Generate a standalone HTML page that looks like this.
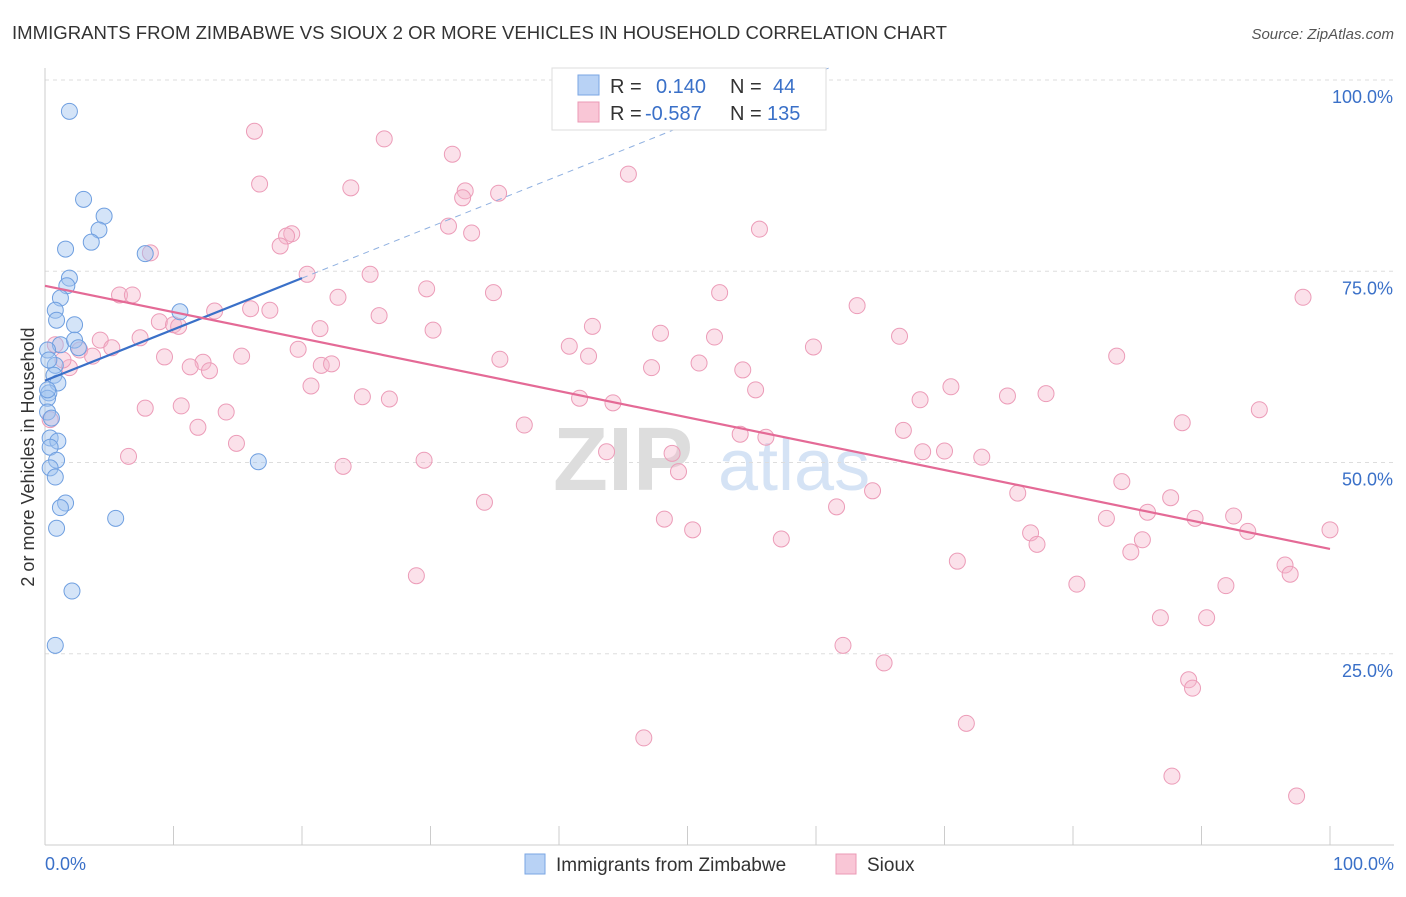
<!DOCTYPE html>
<html><head><meta charset="utf-8"><style>
body{margin:0;background:#fff;font-family:"Liberation Sans",sans-serif;}
svg text{font-family:"Liberation Sans",sans-serif;}
</style></head><body>
<svg id="chart" width="1406" height="892" xmlns="http://www.w3.org/2000/svg">
<text x="12" y="39" font-size="18" fill="#333" textLength="935" lengthAdjust="spacingAndGlyphs">IMMIGRANTS FROM ZIMBABWE VS SIOUX 2 OR MORE VEHICLES IN HOUSEHOLD CORRELATION CHART</text>
<text x="1394" y="39" font-size="15" fill="#555" text-anchor="end" font-style="italic">Source: ZipAtlas.com</text>
<g>
<text x="553" y="490" font-size="90" fill="#ddd" font-family="Liberation Serif" font-weight="bold">ZIP</text>
<text x="718" y="490" font-size="72" fill="#d5e3f5">atlas</text>
</g>
<g id="grid"></g>
<g id="axes"></g>
<g id="pts"></g>
<g id="trends"></g>
<text transform="translate(34,457) rotate(-90)" font-size="18" fill="#333" text-anchor="middle">2 or more Vehicles in Household</text>
<g>
<rect x="552" y="68" width="274" height="62" fill="#fff" stroke="#ddd"/>
<rect x="578" y="75" width="21" height="20" fill="#b8d2f5" stroke="#7aa6e3"/>
<rect x="578" y="102" width="21" height="20" fill="#f9c6d6" stroke="#eb99b5"/>
<text x="610" y="93" font-size="20" fill="#333">R =</text><text x="656" y="93" font-size="20" fill="#3a70c8">0.140</text>
<text x="730" y="93" font-size="20" fill="#333">N =</text><text x="773" y="93" font-size="20" fill="#3a70c8">44</text>
<text x="610" y="120" font-size="20" fill="#333">R =</text><text x="645" y="120" font-size="20" fill="#3a70c8">-0.587</text>
<text x="730" y="120" font-size="20" fill="#333">N =</text><text x="767" y="120" font-size="20" fill="#3a70c8">135</text>
</g>
<g>
<rect x="525" y="854" width="20" height="20" fill="#b8d2f5" stroke="#7aa6e3"/>
<text x="556" y="871" font-size="19" fill="#333">Immigrants from Zimbabwe</text>
<rect x="836" y="854" width="20" height="20" fill="#f9c6d6" stroke="#eb99b5"/>
<text x="867" y="871" font-size="19" fill="#333">Sioux</text>
</g>
</svg>
<script>
const blueX=[1.9,3.0,4.6,4.2,3.6,1.6,7.8,1.9,1.7,1.2,0.8,0.9,2.3,1.2,2.3,2.6,0.2,0.8,0.7,1.0,0.3,0.2,0.2,0.4,1.0,0.4,0.9,0.4,0.8,1.6,1.2,0.9,5.5,2.1,0.8,10.5,16.6,0.3,0.5,0.2];
const blueY=[95.9,84.4,82.2,80.4,78.8,77.9,77.3,74.1,73.1,71.5,69.9,68.6,68.0,65.4,66.0,65.0,64.7,62.7,61.4,60.4,59.1,58.4,56.6,53.2,52.8,52.0,50.3,49.3,48.1,44.7,44.1,41.4,42.7,33.2,26.1,69.7,50.1,63.4,55.8,59.5];
const pinkX=[16.3,26.4,31.7,16.7,23.8,32.7,35.3,45.4,32.5,31.4,33.2,19.2,18.8,18.3,55.6,8.2,20.4,25.3,5.8,6.8,22.8,29.7,34.9,52.5,97.9,63.2,13.2,16.0,17.5,26.0,8.9,10.0,10.4,21.4,30.2,42.6,47.9,52.1,66.5,4.3,7.4,0.8,2.7,5.2,3.7,19.7,59.8,40.8,42.3,83.4,9.3,15.3,12.3,11.3,12.8,21.5,22.3,35.4,47.2,50.9,54.3,1.9,1.4,20.7,24.7,26.8,44.2,55.3,68.1,70.5,74.9,77.9,7.8,10.6,14.1,11.9,37.3,41.6,88.5,94.5,66.8,54.1,56.1,14.9,6.5,23.2,29.5,43.7,48.8,68.3,70.0,72.9,49.3,64.4,34.2,75.7,83.8,87.6,61.6,48.2,50.4,82.6,85.8,89.5,92.5,93.6,76.7,77.2,57.3,85.4,84.5,71.0,96.5,96.9,28.9,80.3,91.9,86.8,90.4,62.1,65.3,89.0,89.3,71.7,46.6,87.7,97.4,0.4,100];
const pinkY=[93.3,92.3,90.3,86.4,85.9,85.5,85.2,87.7,84.6,80.9,80.0,79.9,79.6,78.3,80.5,77.4,74.6,74.6,71.9,71.9,71.6,72.7,72.2,72.2,71.6,70.5,69.8,70.1,69.9,69.2,68.4,68.0,67.8,67.5,67.3,67.8,66.9,66.4,66.5,66.0,66.3,65.4,64.7,65.0,63.9,64.8,65.1,65.2,63.9,63.9,63.8,63.9,63.1,62.5,62.0,62.7,62.9,63.5,62.4,63.0,62.1,62.4,63.4,60.0,58.6,58.3,57.8,59.5,58.2,59.9,58.7,59.0,57.1,57.4,56.6,54.6,54.9,58.4,55.2,56.9,54.2,53.7,53.3,52.5,50.8,49.5,50.3,51.4,51.2,51.4,51.5,50.7,48.8,46.3,44.8,46.0,47.5,45.4,44.2,42.6,41.2,42.7,43.5,42.7,43.0,41.0,40.8,39.3,40.0,39.9,38.3,37.1,36.6,35.4,35.2,34.1,33.9,29.7,29.7,26.1,23.8,21.6,20.5,15.9,14.0,9.0,6.4,55.6,41.2];
const blueTrend=[60.7,0.67]; // intercept, slope
const pinkTrend=[73.1,-0.344];
const yTicks=[25,50,75,100];
const yTickLabels=["25.0%","50.0%","75.0%","100.0%"];
const xTicks=[0,10,20,30,40,50,60,70,80,90,100];

const NS="http://www.w3.org/2000/svg";
const X=v=>45+v*12.85, Y=v=>845-v*7.65;
function mk(t,a,p){const e=document.createElementNS(NS,t);for(const k in a)e.setAttribute(k,a[k]);p.appendChild(e);return e;}
const grid=document.getElementById('grid'),axes=document.getElementById('axes');
yTicks.forEach((t,i)=>{
  const l=mk('line',{x1:45,x2:1394,y1:Y(t),y2:Y(t),stroke:'#ddd','stroke-dasharray':'4,4'},grid);
  
  
  const tx=mk('text',{x:1393,y:Y(t)+23,'font-size':18,fill:'#3a70c8','text-anchor':'end'},axes);
  tx.textContent=yTickLabels[i];
  
  
});
const xa=mk('line',{x1:45,x2:1394,y1:845,y2:845,stroke:'#ccc'},axes);


const ya=mk('line',{x1:45,x2:45,y1:68,y2:845,stroke:'#ccc'},axes);


xTicks.forEach(t=>{const l=mk('line',{x1:X(t),x2:X(t),y1:826,y2:845,stroke:'#ccc'},axes);
  
  });
const x0=mk('text',{x:45,y:870,'font-size':18,fill:'#3a70c8'},axes);x0.textContent='0.0%';


const x1=mk('text',{x:1394,y:870,'font-size':18,fill:'#3a70c8','text-anchor':'end'},axes);x1.textContent='100.0%';


const pts=document.getElementById('pts');
pinkX.forEach((v,i)=>{const c=mk('circle',{cx:X(v),cy:Y(pinkY[i]),r:8,fill:'rgba(246,180,202,0.4)',stroke:'#ec9cb8','stroke-width':1},pts);
  
  });
blueX.forEach((v,i)=>{const c=mk('circle',{cx:X(v),cy:Y(blueY[i]),r:8,fill:'rgba(160,196,240,0.45)',stroke:'#6f9fe0','stroke-width':1},pts);
  
  });
const tr=document.getElementById('trends');
const bt=v=>blueTrend[0]+blueTrend[1]*v, pt=v=>pinkTrend[0]+pinkTrend[1]*v;
const bEnd=Math.min(100,(101.6-blueTrend[0])/blueTrend[1]);
const bs=mk('line',{x1:X(0),y1:Y(bt(0)),x2:X(20),y2:Y(bt(20)),stroke:'#3a70c8','stroke-width':2.2},tr);


const bd=mk('line',{x1:X(20),y1:Y(bt(20)),x2:X(bEnd),y2:Y(bt(bEnd)),stroke:'#8fb0e0','stroke-width':1,'stroke-dasharray':'6,5'},tr);


const ps=mk('line',{x1:X(0),y1:Y(pt(0)),x2:X(100),y2:Y(pt(100)),stroke:'#e46a96','stroke-width':2.2},tr);


</script>
</body></html>
